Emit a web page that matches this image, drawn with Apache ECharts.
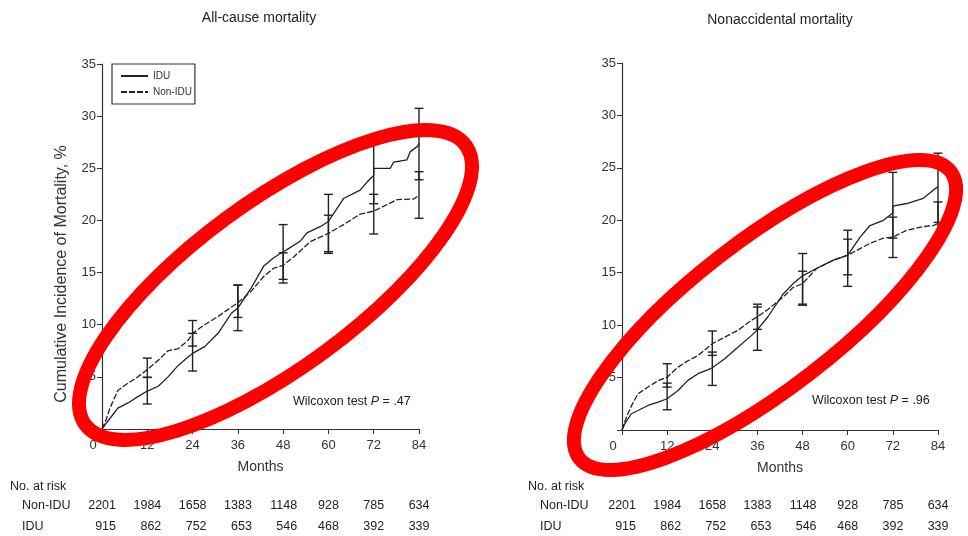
<!DOCTYPE html>
<html>
<head>
<meta charset="utf-8">
<script src="https://cdn.jsdelivr.net/npm/echarts@6/dist/echarts.min.js"></script>
<style>
  html, body { margin: 0; padding: 0; background: #fff; }
  #chart { width: 968px; height: 536px; }
</style>
</head>
<body>
<div id="chart"></div>
<script>
// months with error bars / at-risk counts
const ciMonths = [12, 24, 36, 48, 60, 72, 84];
const riskMonths = [0, 12, 24, 36, 48, 60, 72, 84];
const riskNonIdu = [2201, 1984, 1658, 1383, 1148, 928, 785, 634];
const riskIdu = [915, 862, 752, 653, 546, 468, 392, 339];

// all-cause mortality, cumulative incidence %
const allIduMonths = [0, 1, 2.5, 4.2, 6.9, 9.5, 12, 14.9, 17.5, 20.2, 22.8, 24, 27.2, 30.8, 34.3, 36, 39.5, 42.8, 45.4, 48, 49, 52.5, 54.3, 57.8, 60, 64, 68.4, 70.8, 72, 72, 76.4, 77.3, 80.8, 81.7, 83.6, 84];
const allIduValues = [0, 0.5, 1.2, 2.0, 2.5, 3.1, 3.64, 4.1, 5.0, 6.1, 6.9, 7.25, 7.9, 9.2, 11.1, 11.6, 13.5, 15.6, 16.4, 17.0, 17.2, 18.0, 18.8, 19.4, 19.9, 22.1, 22.9, 23.9, 24.3, 25.0, 25.0, 25.6, 25.8, 26.6, 27.1, 27.4];
const allNonMonths = [0, 1.1, 2.1, 4.2, 6.9, 9.5, 12, 14.9, 17.5, 20.2, 22.8, 24, 27.2, 30.8, 34.3, 36, 39.5, 42.8, 45.4, 48, 50.8, 55.2, 57.8, 60, 64, 68.4, 72, 75.5, 78.2, 82.6, 84];
const allNonValues = [0, 0.9, 2.0, 3.7, 4.4, 5.0, 5.7, 6.6, 7.5, 7.7, 8.5, 9.17, 10.0, 10.8, 11.7, 12.1, 13.2, 14.6, 15.4, 15.7, 16.5, 17.96, 18.4, 18.76, 19.6, 20.6, 20.9, 21.5, 22.0, 22.05, 22.4];
const allIduLow = [2.4, 5.56, 9.43, 14.0, 16.84, 21.6, 23.9];
const allIduHigh = [4.95, 9.17, 13.8, 19.6, 22.5, 28.2, 30.75];
const allNonLow = [4.95, 7.95, 10.7, 14.35, 17.0, 18.7, 20.2];
const allNonHigh = [6.8, 10.4, 13.8, 16.9, 20.5, 22.5, 24.67];

// nonaccidental mortality, cumulative incidence %
const nacIduMonths = [0, 0.75, 2.5, 4.25, 6.9, 9.6, 12, 14.9, 17.5, 20.2, 22.9, 24, 27.3, 30.8, 34.4, 36, 38.8, 42.9, 45.5, 48, 51.7, 56.2, 60, 63.3, 65.9, 69.5, 71.3, 72, 72, 75.7, 80.1, 82.8, 84];
const nacIduValues = [0, 0.6, 1.55, 1.86, 2.34, 2.66, 2.98, 3.77, 4.73, 5.37, 5.75, 5.94, 6.8, 7.9, 9.0, 9.57, 10.8, 13.0, 13.96, 14.7, 15.4, 16.2, 16.67, 18.4, 19.5, 20.0, 20.5, 20.7, 21.35, 21.6, 22.1, 22.9, 23.2];
const nacNonMonths = [0, 1.15, 2.5, 4.25, 6.9, 9.6, 12, 14.9, 17.5, 20.2, 22.9, 24, 27.3, 30.8, 34.4, 36, 38.8, 42.9, 45.5, 48, 51.7, 56.2, 60, 63.3, 65.9, 69.5, 72, 75.7, 80.1, 82.8, 84];
const nacNonValues = [0, 1.2, 2.3, 3.45, 4.1, 4.7, 5.04, 6.0, 6.6, 7.1, 7.9, 8.23, 8.86, 9.5, 10.46, 10.8, 11.5, 12.7, 13.6, 13.96, 15.4, 16.2, 16.67, 17.3, 17.8, 18.3, 18.4, 19.05, 19.4, 19.5, 19.7];
const nacIduLow = [1.93, 4.25, 7.6, 12.0, 13.7, 18.3, 19.8];
const nacIduHigh = [4.47, 7.43, 11.73, 16.83, 19.05, 24.57, 26.4];
const nacNonLow = [4.09, 7.12, 9.6, 11.9, 14.8, 16.45, 17.7];
const nacNonHigh = [6.32, 9.44, 12.0, 15.14, 18.2, 20.3, 21.75];

const FONT = "'Liberation Sans', Arial, sans-serif";
const INK = '#222';

function zip(a, b) { return a.map((v, i) => [v, b[i]]); }

function curve(name, idx, xs, ys, dashed) {
  return {
    name: name, type: 'line', xAxisIndex: idx, yAxisIndex: idx,
    symbol: 'circle', symbolSize: 0, showSymbol: false, silent: true, z: 4,
    data: zip(xs, ys),
    lineStyle: { color: INK, width: 1.3, type: dashed ? [6, 2] : 'solid' },
    itemStyle: { color: INK }
  };
}

function errorBars(idx, low, high) {
  return {
    type: 'custom', xAxisIndex: idx, yAxisIndex: idx, silent: true, z: 3,
    data: ciMonths.map((m, i) => [m, low[i], high[i]]),
    encode: { x: 0, y: [1, 2] },
    renderItem: function (params, api) {
      const lo = api.coord([api.value(0), api.value(1)]);
      const hi = api.coord([api.value(0), api.value(2)]);
      const w = 4.5;
      const st = { stroke: INK, lineWidth: 1.4 };
      return {
        type: 'group',
        children: [
          { type: 'line', shape: { x1: lo[0], y1: lo[1], x2: hi[0], y2: hi[1] }, style: st },
          { type: 'line', shape: { x1: lo[0] - w, y1: lo[1], x2: lo[0] + w, y2: lo[1] }, style: st },
          { type: 'line', shape: { x1: hi[0] - w, y1: hi[1], x2: hi[0] + w, y2: hi[1] }, style: st }
        ]
      };
    }
  };
}

function xAx(idx) {
  return {
    type: 'value', gridIndex: idx, min: 0, max: 84, interval: 12,
    name: 'Months', nameLocation: 'middle', nameGap: 31,
    nameTextStyle: { fontFamily: FONT, fontSize: 14, color: '#333' },
    axisLine: { lineStyle: { color: '#333', width: 1.2 } },
    axisTick: { length: 5, lineStyle: { color: '#333' } },
    axisLabel: {
      fontFamily: FONT, fontSize: 13, color: '#333', margin: 10,
      formatter: v => (v === 0 ? '{z|0}' : String(v)),
      rich: { z: { fontFamily: FONT, fontSize: 13, color: '#333', padding: [0, 18, 0, 0] } }
    },
    splitLine: { show: false }
  };
}

function yAx(idx) {
  return {
    type: 'value', gridIndex: idx, min: 0, max: 35, interval: 5,
    axisLine: { show: true, lineStyle: { color: '#333', width: 1.2 } },
    axisTick: { show: true, length: 5, lineStyle: { color: '#333' } },
    axisLabel: { fontFamily: FONT, fontSize: 13, color: '#333', margin: 6,
      formatter: v => (v === 0 ? '' : v) },
    splitLine: { show: false }
  };
}

const chart = echarts.init(document.getElementById('chart'));

chart.setOption({
  animation: false,
  backgroundColor: '#fff',
  grid: [
    { left: 102, top: 64, width: 317, height: 365 },
    { left: 622, top: 63, width: 316, height: 367 }
  ],
  xAxis: [xAx(0), xAx(1)],
  yAxis: [yAx(0), yAx(1)],
  legend: {
    data: ['IDU', 'Non-IDU'],
    left: 112, top: 64, orient: 'vertical',
    borderColor: '#333', borderWidth: 1.2,
    padding: [7, 3, 7, 8], itemGap: 6,
    itemWidth: 27, itemHeight: 8,
    itemStyle: { color: 'rgba(0,0,0,0)', borderWidth: 0 },
    textStyle: { fontFamily: FONT, fontSize: 10, color: '#333' },
    selectedMode: false
  },
  series: [
    errorBars(0, allIduLow, allIduHigh),
    errorBars(0, allNonLow, allNonHigh),
    curve('IDU', 0, allIduMonths, allIduValues, false),
    curve('Non-IDU', 0, allNonMonths, allNonValues, true),
    errorBars(1, nacIduLow, nacIduHigh),
    errorBars(1, nacNonLow, nacNonHigh),
    curve('IDU', 1, nacIduMonths, nacIduValues, false),
    curve('Non-IDU', 1, nacNonMonths, nacNonValues, true)
  ]
});

// texts, at-risk table and the red marker ellipses
const txt = (x, y, s, o) => Object.assign({
  type: 'text', x: x, y: y,
  style: Object.assign({ text: s, fontFamily: FONT, fontSize: 13, fill: '#222',
    align: 'left', verticalAlign: 'middle' }, (o && o.style) || {})
}, o && o.rotation ? { rotation: o.rotation } : {});

const graphics = [
  txt(259, 18, 'All-cause mortality', { style: { align: 'center', fontSize: 14 } }),
  txt(780, 20, 'Nonaccidental mortality', { style: { align: 'center', fontSize: 14 } }),
  txt(62, 274, 'Cumulative Incidence of Mortality, %', { style: { align: 'center', fontSize: 16, fill: '#333' }, rotation: Math.PI / 2 }),
  {
    type: 'text', x: 293, y: 402,
    style: { text: '{a|Wilcoxon test }{b|P}{a| = .47}', verticalAlign: 'middle',
      rich: { a: { fontFamily: FONT, fontSize: 12.5, fill: '#222' },
              b: { fontFamily: FONT, fontSize: 12.5, fill: '#222', fontStyle: 'italic' } } }
  },
  {
    type: 'text', x: 812, y: 401,
    style: { text: '{a|Wilcoxon test }{b|P}{a| = .96}', verticalAlign: 'middle',
      rich: { a: { fontFamily: FONT, fontSize: 12.5, fill: '#222' },
              b: { fontFamily: FONT, fontSize: 12.5, fill: '#222', fontStyle: 'italic' } } }
  }
];

[[0, 10, 22], [1, 528, 540]].forEach(([gi, x0, x1]) => {
  graphics.push(txt(x0, 487, 'No. at risk', { style: { fontSize: 12.5 } }));
  graphics.push(txt(x1, 506, 'Non-IDU', { style: { fontSize: 12.5 } }));
  graphics.push(txt(x1, 527, 'IDU', { style: { fontSize: 12.5 } }));
  riskMonths.forEach((m, i) => {
    const px = chart.convertToPixel({ xAxisIndex: gi }, m);
    const half = String(riskNonIdu[i]).length * 3.5;
    graphics.push(txt(px + half, 506, String(riskNonIdu[i]), { style: { fontSize: 12.5, align: 'right' } }));
    graphics.push(txt(px + half, 527, String(riskIdu[i]), { style: { fontSize: 12.5, align: 'right' } }));
  });
});

// red highlight ellipses drawn over the plots
[[275.5, 285, 236, 83, 36.3], [765, 315, 234.6, 74, 37.7]].forEach(([cx, cy, rx, ry, deg]) => {
  graphics.push({
    type: 'ellipse', x: cx, y: cy, rotation: deg * Math.PI / 180, z: 100,
    shape: { cx: 0, cy: 0, rx: rx, ry: ry },
    style: { fill: null, stroke: '#ff0000', lineWidth: 14 }
  });
});

chart.setOption({ graphic: graphics });
</script>
</body>
</html>
